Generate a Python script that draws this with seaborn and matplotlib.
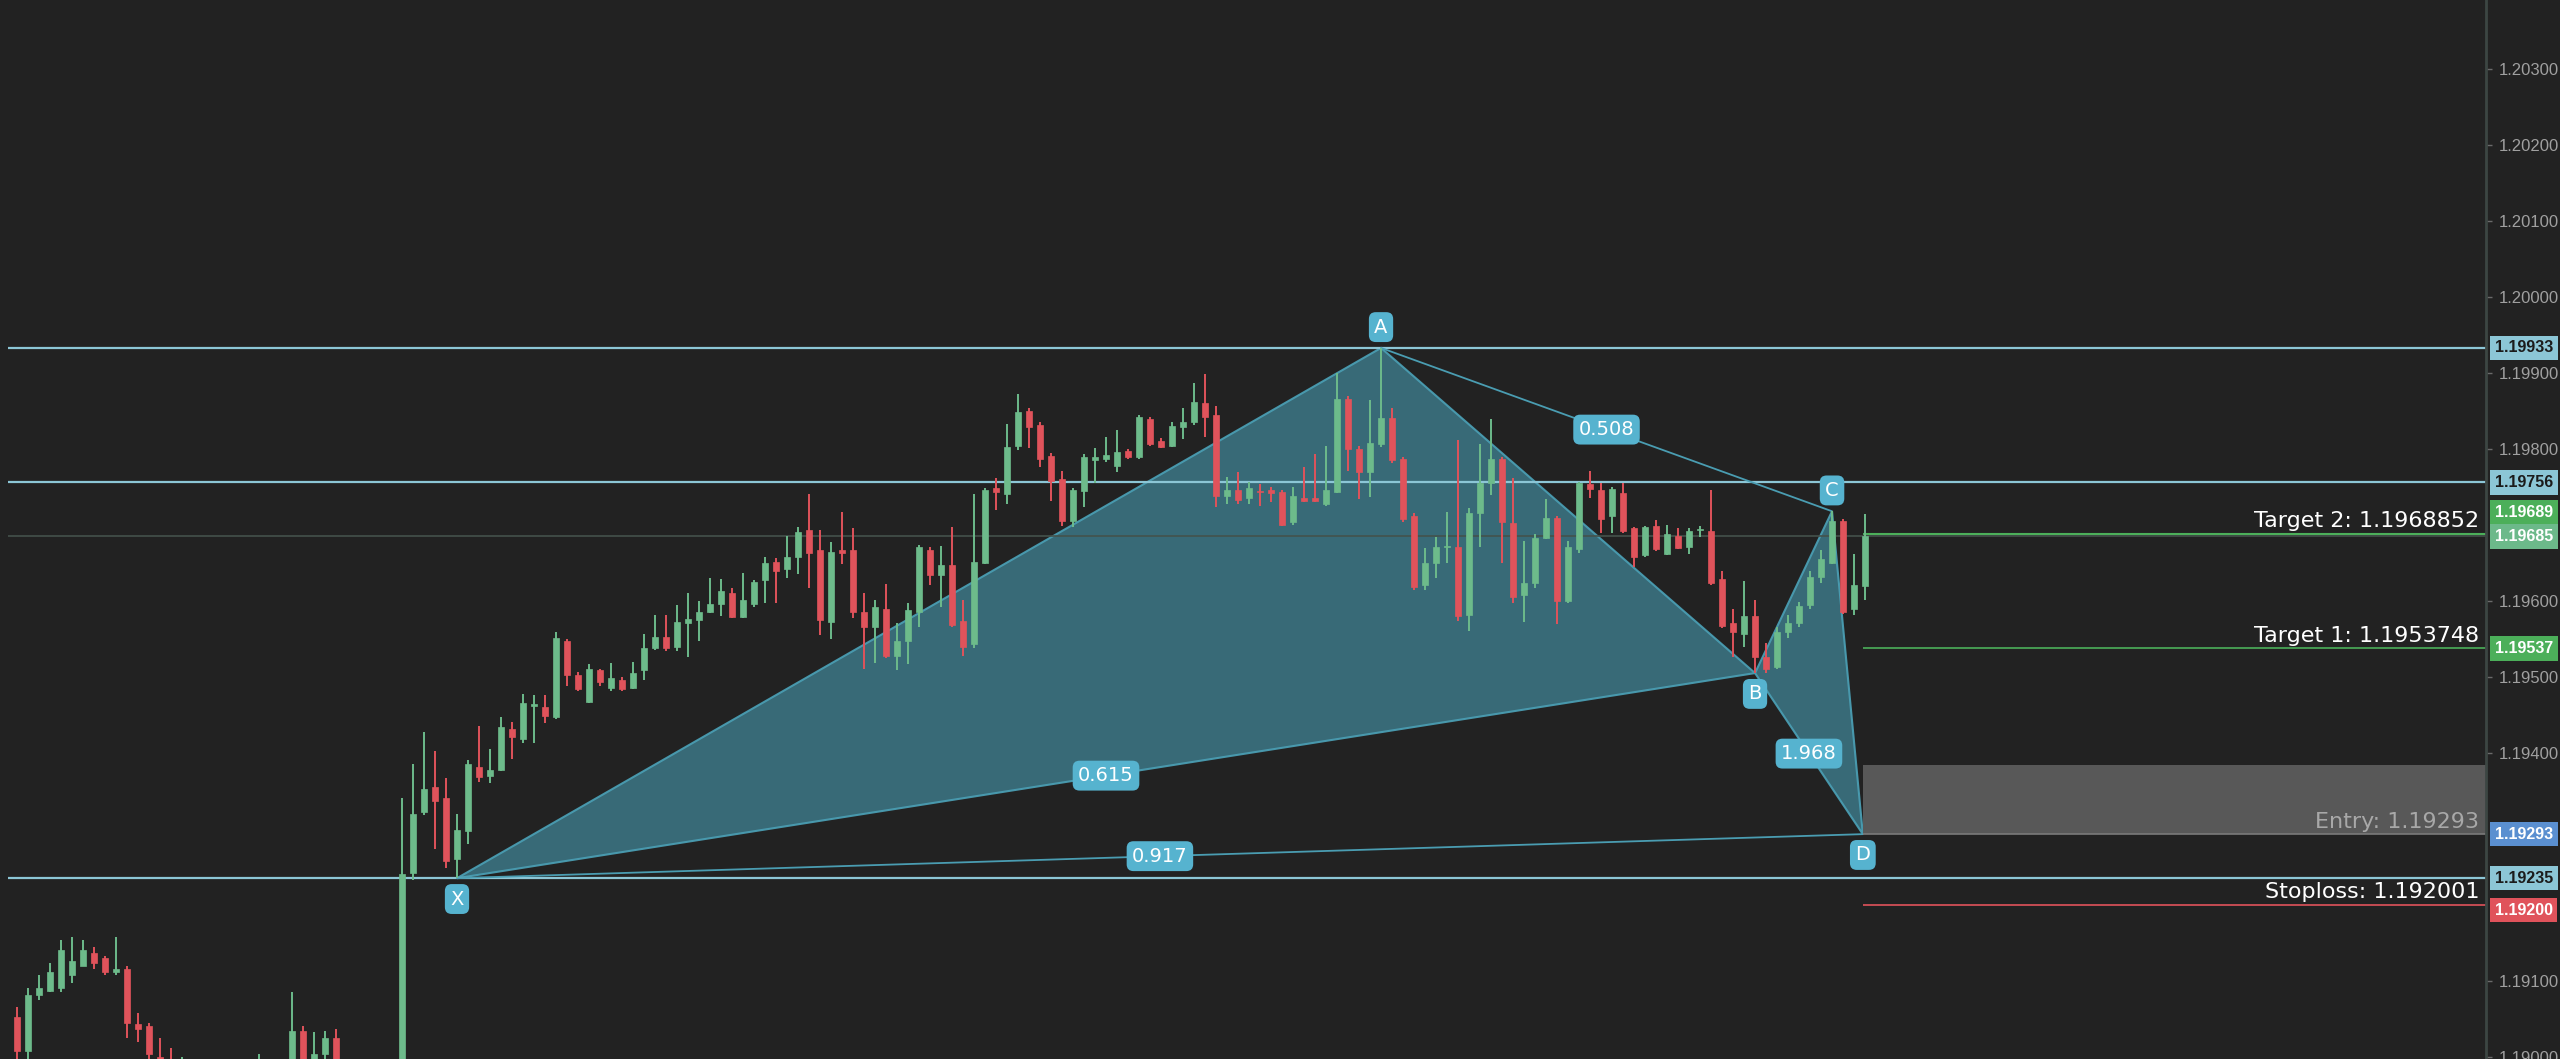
import matplotlib
matplotlib.use("Agg")
import matplotlib.pyplot as plt
import matplotlib.transforms as mtrans
import seaborn as sns
import numpy as np
import pandas as pd

# ---------------- data ----------------
ohlc = [
(1.19052,1.19065,1.18980,1.19008),(1.19007,1.19090,1.18995,1.19081),(1.19081,1.19108,1.19075,1.19091),
(1.19087,1.19124,1.19085,1.19112),(1.19090,1.19153,1.19085,1.19140),(1.19107,1.19157,1.19097,1.19126),
(1.19120,1.19153,1.19120,1.19140),(1.19136,1.19144,1.19116,1.19123),(1.19130,1.19132,1.19107,1.19111),
(1.19111,1.19158,1.19108,1.19116),(1.19116,1.19120,1.19024,1.19045),(1.19043,1.19058,1.19020,1.19037),
(1.19041,1.19045,1.18995,1.19003),(1.19000,1.19025,1.18930,1.18960),(1.18960,1.19012,1.18910,1.18930),
(1.18930,1.19000,1.18900,1.18950),(1.18950,1.18980,1.18890,1.18920),(1.18920,1.18940,1.18870,1.18890),
(1.18890,1.18930,1.18860,1.18910),(1.18910,1.18930,1.18850,1.18880),(1.18880,1.18920,1.18860,1.18900),
(1.18900,1.18950,1.18880,1.18930),(1.18930,1.19004,1.18910,1.18960),(1.18960,1.18980,1.18910,1.18930),
(1.18930,1.18980,1.18910,1.18950),(1.18950,1.19085,1.18930,1.19034),(1.19034,1.19041,1.18920,1.18950),
(1.18950,1.19032,1.18930,1.19004),(1.19004,1.19034,1.18995,1.19025),(1.19025,1.19037,1.18930,1.18950),
(1.18950,1.18970,1.18900,1.18920),(1.18920,1.18960,1.18900,1.18940),(1.18940,1.18960,1.18890,1.18910),
(1.18910,1.18950,1.18890,1.18930),(1.18930,1.18960,1.18900,1.18940),(1.18940,1.19340,1.18920,1.19241),
(1.19242,1.19385,1.19232,1.19320),(1.19322,1.19427,1.19318,1.19352),(1.19355,1.19402,1.19274,1.19336),
(1.19340,1.19367,1.19249,1.19257),(1.19260,1.19319,1.19235,1.19298),(1.19297,1.19390,1.19280,1.19385),
(1.19381,1.19435,1.19361,1.19368),(1.19369,1.19405,1.19360,1.19378),(1.19378,1.19447,1.19376,1.19434),
(1.19431,1.19440,1.19392,1.19421),(1.19418,1.19478,1.19413,1.19465),(1.19462,1.19476,1.19413,1.19464),
(1.19461,1.19476,1.19439,1.19449),(1.19447,1.19559,1.19445,1.19551),(1.19547,1.19550,1.19488,1.19503),
(1.19502,1.19506,1.19482,1.19484),(1.19467,1.19517,1.19465,1.19511),(1.19509,1.19511,1.19488,1.19493),
(1.19486,1.19518,1.19482,1.19498),(1.19496,1.19500,1.19482,1.19484),(1.19486,1.19520,1.19484,1.19505),
(1.19509,1.19556,1.19496,1.19538),(1.19538,1.19581,1.19536,1.19552),(1.19552,1.19581,1.19534,1.19538),
(1.19539,1.19594,1.19534,1.19572),(1.19571,1.19610,1.19526,1.19576),(1.19575,1.19600,1.19547,1.19585),
(1.19585,1.19630,1.19584,1.19596),(1.19596,1.19629,1.19580,1.19613),(1.19611,1.19617,1.19577,1.19579),
(1.19579,1.19637,1.19577,1.19601),(1.19596,1.19628,1.19592,1.19625),(1.19627,1.19658,1.19597,1.19650),
(1.19651,1.19656,1.19597,1.19639),(1.19642,1.19685,1.19630,1.19658),(1.19658,1.19697,1.19635,1.19691),
(1.19693,1.19741,1.19617,1.19663),(1.19667,1.19694,1.19555,1.19575),(1.19572,1.19677,1.19550,1.19664),
(1.19667,1.19717,1.19648,1.19663),(1.19667,1.19696,1.19577,1.19585),(1.19585,1.19610,1.19511,1.19565),
(1.19565,1.19601,1.19518,1.19592),(1.19589,1.19622,1.19525,1.19527),(1.19527,1.19571,1.19509,1.19547),
(1.19547,1.19597,1.19517,1.19588),(1.19585,1.19673,1.19565,1.19671),(1.19667,1.19671,1.19621,1.19634),
(1.19634,1.19672,1.19592,1.19647),(1.19647,1.19697,1.19565,1.19568),(1.19573,1.19601,1.19527,1.19539),
(1.19543,1.19741,1.19538,1.19651),(1.19650,1.19748,1.19648,1.19746),(1.19748,1.19762,1.19720,1.19743),
(1.19741,1.19833,1.19727,1.19802),(1.19804,1.19872,1.19799,1.19849),(1.19850,1.19854,1.19801,1.19829),
(1.19831,1.19835,1.19776,1.19787),(1.19791,1.19795,1.19731,1.19758),(1.19760,1.19771,1.19698,1.19705),
(1.19705,1.19748,1.19697,1.19746),(1.19745,1.19793,1.19723,1.19789),(1.19786,1.19801,1.19755,1.19789),
(1.19787,1.19816,1.19783,1.19792),(1.19777,1.19825,1.19770,1.19796),(1.19797,1.19800,1.19787,1.19789),
(1.19789,1.19845,1.19787,1.19842),(1.19840,1.19842,1.19804,1.19806),(1.19810,1.19814,1.19801,1.19802),
(1.19804,1.19835,1.19802,1.19830),(1.19829,1.19854,1.19813,1.19836),(1.19836,1.19887,1.19831,1.19862),
(1.19860,1.19899,1.19816,1.19842),(1.19845,1.19856,1.19723,1.19738),(1.19738,1.19763,1.19727,1.19746),
(1.19746,1.19770,1.19727,1.19733),(1.19735,1.19756,1.19727,1.19748),(1.19745,1.19754,1.19725,1.19744),
(1.19746,1.19750,1.19730,1.19742),(1.19744,1.19746,1.19698,1.19700),(1.19704,1.19750,1.19700,1.19738),
(1.19735,1.19776,1.19730,1.19732),(1.19735,1.19793,1.19730,1.19732),(1.19727,1.19804,1.19725,1.19746),
(1.19744,1.19900,1.19742,1.19866),(1.19866,1.19870,1.19771,1.19800),(1.19800,1.19804,1.19734,1.19770),
(1.19770,1.19864,1.19737,1.19808),(1.19806,1.19933,1.19802,1.19841),(1.19841,1.19854,1.19781,1.19785),
(1.19787,1.19790,1.19704,1.19708),(1.19712,1.19716,1.19615,1.19618),(1.19621,1.19670,1.19615,1.19650),
(1.19650,1.19684,1.19630,1.19671),(1.19671,1.19717,1.19650,1.19672),(1.19671,1.19812,1.19573,1.19580),
(1.19582,1.19722,1.19561,1.19716),(1.19716,1.19806,1.19671,1.19755),(1.19755,1.19839,1.19739,1.19787),
(1.19787,1.19790,1.19650,1.19704),(1.19703,1.19762,1.19597,1.19605),(1.19608,1.19679,1.19572,1.19623),
(1.19623,1.19688,1.19617,1.19683),(1.19683,1.19734,1.19681,1.19709),(1.19709,1.19712,1.19570,1.19600),
(1.19600,1.19679,1.19597,1.19671),(1.19668,1.19756,1.19663,1.19755),(1.19754,1.19771,1.19735,1.19747),
(1.19746,1.19755,1.19689,1.19708),(1.19712,1.19750,1.19689,1.19747),(1.19742,1.19755,1.19690,1.19692),
(1.19696,1.19697,1.19645,1.19658),(1.19661,1.19699,1.19658,1.19697),(1.19699,1.19707,1.19666,1.19668),
(1.19662,1.19700,1.19660,1.19688),(1.19685,1.19696,1.19668,1.19670),(1.19671,1.19696,1.19662,1.19692),
(1.19694,1.19699,1.19684,1.19695),(1.19692,1.19746,1.19621,1.19623),(1.19629,1.19639,1.19564,1.19567),
(1.19571,1.19590,1.19526,1.19559),(1.19557,1.19626,1.19539,1.19580),(1.19580,1.19601,1.19505,1.19526),
(1.19526,1.19545,1.19505,1.19510),(1.19513,1.19565,1.19511,1.19559),(1.19559,1.19581,1.19551,1.19571),
(1.19571,1.19598,1.19565,1.19593),(1.19594,1.19640,1.19590,1.19631),(1.19631,1.19667,1.19623,1.19655),
(1.19650,1.19718,1.19648,1.19705),(1.19705,1.19708,1.19583,1.19585),(1.19590,1.19662,1.19581,1.19621),
(1.19620,1.19715,1.19601,1.19685),
]
opens = [r[0] for r in ohlc]
highs = [r[1] for r in ohlc]
lows = [r[2] for r in ohlc]
closes = [r[3] for r in ohlc]

pattern_names = ["X", "A", "B", "C", "D"]
pattern_idx = [40, 124, 158, 165, 167.8]
pattern_price = [1.19235, 1.19933, 1.19505, 1.19718, 1.19293]
ratio_labels = ["0.615", "0.508", "1.968", "0.917"]
ratio_pairs = [(0, 2), (1, 3), (2, 4), (0, 4)]

level_lines = [1.19933, 1.19756, 1.19235]
last_price = 1.19685
target2, target1, entry, stoploss = 1.1968852, 1.1953748, 1.19293, 1.192001
entry_box_top = 1.19384
yticks = [1.190, 1.191, 1.194, 1.195, 1.196, 1.198, 1.199, 1.200, 1.201, 1.202, 1.203]
tag_values = [1.19933, 1.19756, 1.19689, 1.19685, 1.19537, 1.19293, 1.19235, 1.19200]
tag_texts = ["1.19933", "1.19756", "1.19689", "1.19685", "1.19537", "1.19293", "1.19235", "1.19200"]
tag_faces = ["#8cc6d6", "#8cc6d6", "#4caf5a", "#6cb98a", "#4caf5a", "#5a8fd0", "#8cc6d6", "#e0535b"]
tag_textcol = ["#1b1b1b", "#1b1b1b", "white", "white", "white", "white", "#1b1b1b", "white"]
tag_nudge = [0, 0, 0.00028, 0, 0, 0, 0, -0.00007]

# ---------------- style ----------------
sns.set_theme(style="dark")
plt.rcParams["font.family"] = ["DejaVu Sans"]
BG = "#222222"
GREEN = "#6dbb8b"
RED = "#e0535b"

fig = plt.figure(figsize=(25.6, 10.59), dpi=100, facecolor=BG)
ax = fig.add_axes([0, 0, 2486 / 2560, 1])
ax.set_facecolor(BG)
ax.grid(False)
xmin, xmax = -1.545, 224.45
ax.set_xlim(xmin, xmax)
ax.set_ylim(1.18997, 1.20391)

df = pd.DataFrame({"i": np.arange(len(opens)), "o": opens, "h": highs, "l": lows, "c": closes})
df["up"] = df["c"] >= df["o"]
df["col"] = np.where(df["up"], GREEN, RED)

px = np.array(pattern_idx)
py = np.array(pattern_price)
for tri in [(0, 1, 2), (2, 3, 4)]:
    ax.fill([px[k] for k in tri], [py[k] for k in tri], color="#3a6f7c", alpha=0.95, zorder=1,
            ec="#4a9db2", lw=1.5)

ax.vlines(df["i"], df["l"], df["h"], colors=df["col"], lw=1.4, zorder=3)
bot = np.minimum(df["o"], df["c"])
hgt = np.maximum(np.abs(df["c"] - df["o"]), 0.000012)
ax.bar(df["i"], hgt, bottom=bot, width=0.62, color=df["col"], edgecolor=df["col"], lw=0.5, zorder=4)

for lv in level_lines:
    ax.hlines(lv, -0.8, xmax, colors="#8cc6d6", lw=1.6, zorder=2)
ax.hlines(last_price, -0.8, xmax, colors="#44524c", lw=1.2, zorder=2)

for (a, b) in [(1, 3), (0, 4)]:
    seg = pd.DataFrame({"x": [px[a], px[b]], "y": [py[a], py[b]]})
    sns.lineplot(data=seg, x="x", y="y", ax=ax, color="#4a9db2", lw=1.3, zorder=2)
ax.set_xlabel(""); ax.set_ylabel("")

lbl_box = dict(boxstyle="round,pad=0.28,rounding_size=0.35", fc="#56b3cf", ec="none")
for (a, b), t in zip(ratio_pairs, ratio_labels):
    ax.text((px[a] + px[b]) / 2, (py[a] + py[b]) / 2, t, ha="center", va="center", color="white",
            fontsize=14, bbox=lbl_box, zorder=6)
offs = {"X": -15, "A": 15, "B": -15, "C": 15, "D": -15}
for n, x, y in zip(pattern_names, px, py):
    ax.annotate(n, (x, y), xytext=(0, offs[n]), textcoords="offset points", ha="center",
                va="center", color="white", fontsize=14, bbox=lbl_box, zorder=6)

xd = px[4]
ax.fill_between([xd, xmax], entry, entry_box_top, color="#585858", zorder=2, lw=0)
ax.hlines(entry, xd, xmax, colors="#7a7a7a", lw=1.2, zorder=2)
ax.hlines(target2, xd, xmax, colors="#4caf5a", lw=1.5, zorder=2)
ax.hlines(target1, xd, xmax, colors="#4caf5a", lw=1.2, zorder=2)
ax.hlines(stoploss, xd, xmax, colors="#e0535b", lw=1.2, zorder=2)
xr = xmax - 0.6
kw = dict(ha="right", va="bottom", fontsize=16, fontweight="medium", zorder=7)
ax.text(xr, target2 + 0.00003, "Target 2: 1.1968852", color="white", **kw)
ax.text(xr, target1 + 0.00003, "Target 1: 1.1953748", color="white", **kw)
ax.text(xr, entry + 0.00003, "Entry: 1.19293", color="#a8a8a8", **kw)
ax.text(xr, stoploss + 0.00003, "Stoploss: 1.192001", color="white", **kw)

ax.yaxis.tick_right()
ax.set_yticks(yticks)
ax.set_yticklabels([f"{v:.5f}" for v in yticks])
ax.tick_params(axis="y", colors="#6a6a6a", labelcolor="#a0a0a0", labelsize=12, length=4, width=1, pad=5, right=True)
for lab in ax.get_yticklabels():
    lab.set_family(["Liberation Sans", "DejaVu Sans"])
ax.tick_params(axis="x", bottom=False, labelbottom=False)
for s in ["top", "left", "bottom"]:
    ax.spines[s].set_visible(False)
ax.spines["right"].set_color("#3c4643")
ax.spines["right"].set_linewidth(2)

trans = mtrans.blended_transform_factory(ax.transAxes, ax.transData)
for v, t, fc, tc, nd in zip(tag_values, tag_texts, tag_faces, tag_textcol, tag_nudge):
    ax.text(1.0035, v + nd, t, transform=trans, ha="left", va="center", color=tc, fontsize=11.5,
            fontweight="bold", family=["Liberation Sans", "DejaVu Sans"], zorder=8, clip_on=False,
            bbox=dict(boxstyle="square,pad=0.3", fc=fc, ec="none"))

fig.savefig("out.png", dpi=100, facecolor=BG)
